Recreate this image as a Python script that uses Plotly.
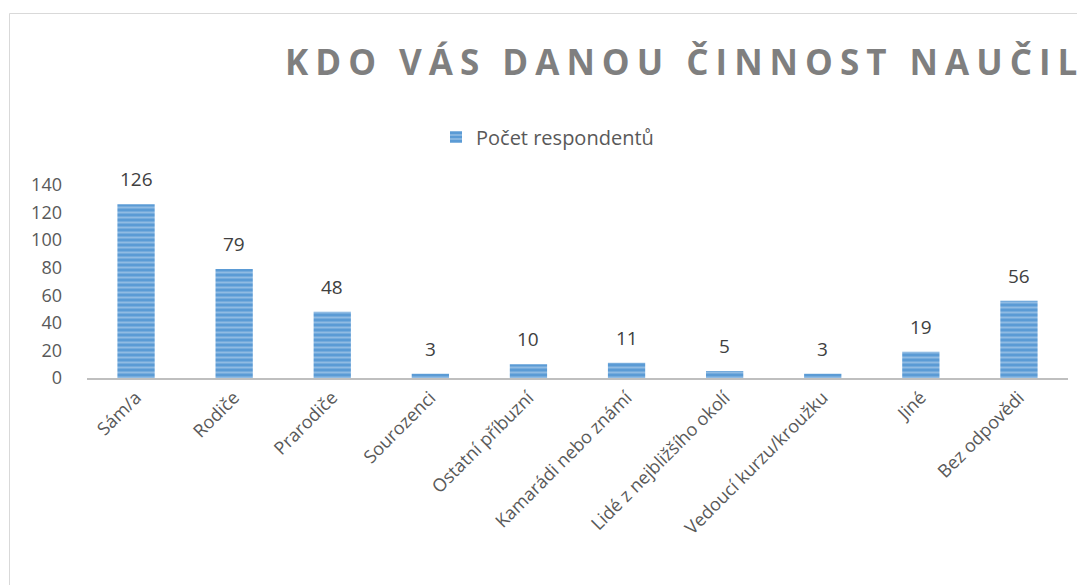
import plotly.graph_objects as go

categories = ["Sám/a", "Rodiče", "Prarodiče", "Sourozenci", "Ostatní příbuzní",
              "Kamarádi nebo známí", "Lidé z nejbližšího okolí", "Vedoucí kurzu/kroužku",
              "Jiné", "Bez odpovědi"]
values = [126, 79, 48, 3, 10, 11, 5, 3, 19, 56]
series_name = "Počet respondentů"
title_text = "KDO VÁS DANOU ČINNOST NAUČIL"

OFF = 8  # page body margin
W, H = 1085 - OFF, 585 - OFF
# desired plot area in page pixels: x 87..1068, y 185..378
L = 87 - OFF
R = W - (1068 - OFF)
T = 185 - OFF
B = H - (378 - OFF)
pw = W - L - R
ph = H - T - B

def px_x(x):
    return (x - OFF - L) / pw

def px_y(y):
    return (H - B - (y - OFF)) / ph

fig = go.Figure()
fig.add_trace(go.Bar(
    x=categories, y=values, name=series_name,
    marker=dict(
        color="#5B9BD5",
        pattern=dict(shape="-", fillmode="overlay", fgcolor="#C5DCF1", size=5, solidity=0.4),
        line=dict(width=0),
    ),
    width=0.38,
    showlegend=True,
))

for c, v in zip(categories, values):
    fig.add_annotation(x=c, y=v, text=str(v), showarrow=False, yanchor="bottom", yshift=10,
                       font=dict(family="Open Sans", size=19, color="#404040"))

fig.update_layout(
    width=W, height=H,
    margin=dict(l=L, r=R, t=T, b=B, autoexpand=False),
    paper_bgcolor="white", plot_bgcolor="white",
    font=dict(family="Open Sans", color="#595959"),
    showlegend=True,
    legend=dict(orientation="h", x=px_x(436), xanchor="left", y=px_y(137), yanchor="middle",
                font=dict(family="Open Sans", size=20, color="#595959"),
                bgcolor="rgba(0,0,0,0)"),
    xaxis=dict(showgrid=False, showline=True, linecolor="#BFBFBF", linewidth=2,
               tickangle=-45, ticks="", automargin=False,
               tickfont=dict(family="Open Sans", size=18, color="#595959"),
               range=[-0.5, 9.5]),
    yaxis=dict(range=[0, 140], dtick=20, showgrid=False, zeroline=False, showline=False,
               ticks="", automargin=False,
               tickfont=dict(family="Open Sans", size=18, color="#595959"),
               ticklabelstandoff=24),
    bargap=0.62,
)

fig.add_annotation(
    xref="paper", yref="paper", x=px_x(283), y=px_y(62), xanchor="left", yanchor="middle",
    text='<span style="letter-spacing:7px">' + "<b>" + title_text + "</b></span>",
    showarrow=False,
    font=dict(family="Open Sans", size=35, color="#7F7F7F"),
)

fig.add_shape(type="rect", xref="paper", yref="paper",
              x0=px_x(9.5), x1=px_x(1100), y0=px_y(13.5), y1=px_y(600),
              line=dict(color="#D9D9D9", width=1), fillcolor="rgba(0,0,0,0)", layer="below")

fig.write_html("out.html")
